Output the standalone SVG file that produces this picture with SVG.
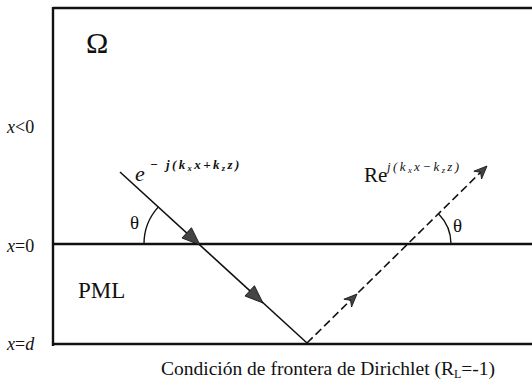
<svg xmlns="http://www.w3.org/2000/svg" width="532" height="383" viewBox="0 0 532 383">
<style>
.t{font-family:"Liberation Serif","Times New Roman",serif;fill:#111}
.i{font-style:italic}
.frame{stroke:#111;stroke-width:2.4;fill:none}
.ray{stroke:#111;stroke-width:1.6;fill:none}
.dash{stroke:#111;stroke-width:1.6;fill:none;stroke-dasharray:8,4}
.arc{stroke:#111;stroke-width:1.4;fill:none}
.ah{fill:#444;stroke:#111;stroke-width:0.8}
</style>
<defs>
<path id="tri" d="M0,0 L-18,-7 L-18,7 Z"/>
<path id="barb" d="M0,0 L-13,-5.5 L-9,0 L-13,5.5 Z"/>
</defs>
<rect width="532" height="383" fill="#fff"/>
<g id="frame">
<line class="frame" x1="53" y1="7" x2="53" y2="346"/>
<line class="frame" x1="53" y1="8" x2="532" y2="8"/>
<line class="frame" x1="53" y1="244" x2="532" y2="244"/>
<line class="frame" x1="53" y1="344" x2="532" y2="344"/>
</g>
<g id="labels">
<text class="t" x="86" y="53" font-size="30">Ω</text>
<text class="t" x="7" y="133" font-size="18"><tspan class="i">x</tspan>&lt;0</text>
<text class="t" x="7" y="252" font-size="18"><tspan class="i">x</tspan>=0</text>
<text class="t" x="7" y="350" font-size="18"><tspan class="i">x</tspan>=<tspan class="i">d</tspan></text>
<text class="t" x="78" y="298" font-size="23">PML</text>
<text class="t" x="161" y="375" font-size="19.5">Condición de frontera de Dirichlet (R<tspan font-size="12" dy="3">L</tspan><tspan dy="-3">=-1)</tspan></text>
</g>
<g id="incident-label">
<text class="t i" x="135" y="181" font-size="22">e</text>
<text class="t i" x="150" y="169" font-size="13" font-weight="bold" letter-spacing="2.4">− j(k<tspan font-size="8.5" dy="2">x</tspan><tspan dy="-2">x+k</tspan><tspan font-size="8.5" dy="2">z</tspan><tspan dy="-2">z)</tspan></text>
</g>
<g id="reflected-label">
<text class="t" x="364" y="182" font-size="21">Re</text>
<text class="t i" x="387" y="171" font-size="13" letter-spacing="2.4">j(k<tspan font-size="8.5" dy="2">x</tspan><tspan dy="-2">x−k</tspan><tspan font-size="8.5" dy="2">z</tspan><tspan dy="-2">z)</tspan></text>
</g>
<g id="angles">
<path class="arc" d="M144,244 A55,55 0 0 1 158.4,206.9"/>
<text class="t" x="130" y="229" font-size="19">θ</text>
<path class="arc" d="M451,244 A43,43 0 0 0 438.7,213.9"/>
<text class="t" x="453" y="232" font-size="19">θ</text>
</g>
<g id="connectors">
<line class="ray" x1="120" y1="172" x2="307" y2="343"/>
<line class="dash" x1="307" y1="343" x2="486" y2="167"/>
<use href="#tri" class="ah" transform="translate(200,245) rotate(42.4)"/>
<use href="#tri" class="ah" transform="translate(263,303) rotate(42.4)"/>
<use href="#barb" class="ah" transform="translate(357,294) rotate(-44.5)"/>
<use href="#barb" class="ah" transform="translate(487,166) rotate(-44.5)"/>
</g>
</svg>
